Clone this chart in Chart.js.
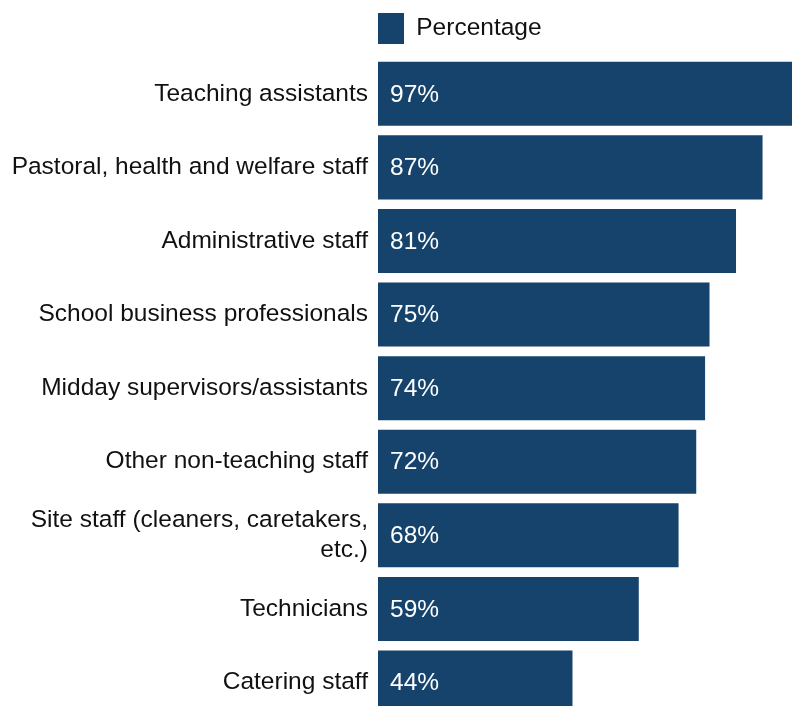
<!DOCTYPE html>
<html>
<head>
<meta charset="utf-8">
<script src="https://cdn.jsdelivr.net/npm/chart.js@4/dist/chart.umd.min.js"></script>
<style>
  html, body { margin: 0; padding: 0; background: #fff; overflow: hidden; }
  #wrap { width: 792px; height: 706px; overflow: hidden; }
</style>
</head>
<body>
<div id="wrap"><canvas id="staffChart" width="820" height="744"></canvas></div>
<script>
const categories = [
  'Teaching assistants',
  'Pastoral, health and welfare staff',
  'Administrative staff',
  'School business professionals',
  'Midday supervisors/assistants',
  'Other non-teaching staff',
  ['Site staff (cleaners, caretakers,', 'etc.)'],
  'Technicians',
  'Catering staff'
];
const percentages = [97, 87, 81, 75, 74, 72, 68, 59, 44];
const seriesName = 'Percentage';

const barColour = '#15436b';
const fontFamily = '"Liberation Sans", Arial, sans-serif';
const fontSize = 24.5;

// white value labels just inside the start of each bar
const valueLabels = {
  id: 'valueLabels',
  afterDatasetsDraw(chart) {
    const ctx = chart.ctx;
    const meta = chart.getDatasetMeta(0);
    ctx.save();
    ctx.font = fontSize + 'px ' + fontFamily;
    ctx.fillStyle = '#ffffff';
    ctx.textAlign = 'left';
    ctx.textBaseline = 'middle';
    meta.data.forEach((bar, i) => {
      ctx.fillText(percentages[i] + '%', bar.base + 12, bar.y + 1);
    });
    ctx.restore();
  }
};

const ctx = document.getElementById('staffChart').getContext('2d');
new Chart(ctx, {
  type: 'bar',
  data: {
    labels: categories,
    datasets: [{
      label: seriesName,
      data: percentages,
      backgroundColor: barColour,
      borderWidth: 0,
      categoryPercentage: 1,
      barPercentage: 0.87
    }]
  },
  options: {
    indexAxis: 'y',
    responsive: false,
    animation: false,
    layout: { padding: { top: 13, left: 0, right: 0, bottom: 0 } },
    scales: {
      x: {
        // value axis is not drawn; it only leaves a small gap under the legend
        position: 'top',
        min: 0,
        max: 100,
        ticks: { display: false },
        grid: { display: false, drawTicks: false },
        border: { display: false },
        afterFit(scale) { scale.height = 3; }
      },
      y: {
        grid: { display: false, drawTicks: false },
        border: { display: false },
        ticks: {
          color: '#111',
          padding: 10,
          font: { family: fontFamily, size: fontSize }
        },
        afterFit(scale) { scale.width = 378; }
      }
    },
    plugins: {
      legend: {
        position: 'top',
        align: 'start',
        fullSize: false,
        labels: {
          boxWidth: 26,
          boxHeight: 31,
          padding: 0,
          color: '#111',
          font: { family: fontFamily, size: fontSize }
        }
      },
      tooltip: { enabled: false }
    }
  },
  plugins: [valueLabels]
});
</script>
</body>
</html>
